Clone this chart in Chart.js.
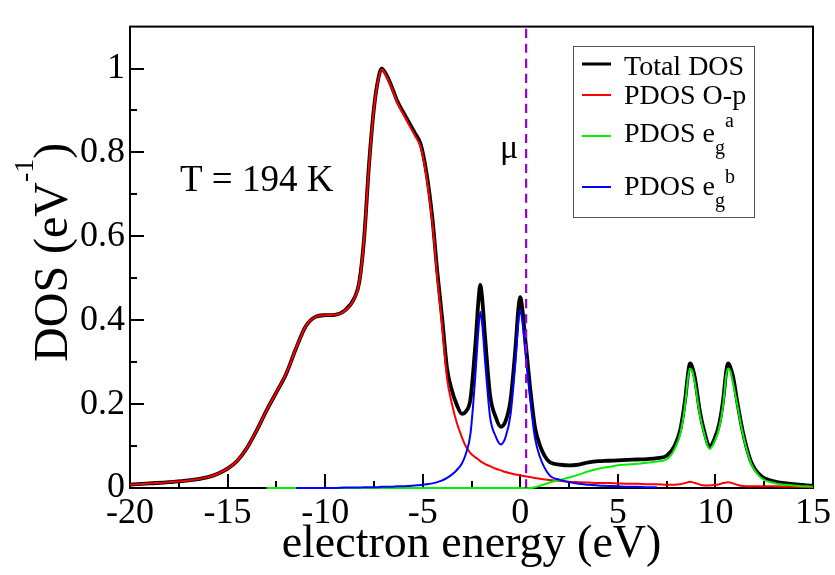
<!DOCTYPE html>
<html>
<head>
<meta charset="utf-8">
<title>DOS</title>
<script src="https://cdn.jsdelivr.net/npm/chart.js@4.4.0/dist/chart.umd.min.js"></script>
<style>
  html, body { margin: 0; padding: 0; background: #fff; }
</style>
</head>
<body>
<canvas id="dosChart" width="835" height="575"></canvas>
<script>
"use strict"
//values -> build {x,y} points -> plot with chart.js

//electron energy grid (eV), shared by every curve
var energy = [
  -20, -19, -18, -17, -16, -15.5, -15, -14.5, -14, -13.5,
  -13, -12.5, -12, -11.5, -11, -10.5, -10, -9.5, -9, -8.5,
  -8.25, -8, -7.75, -7.5, -7.3, -7.1, -6.9, -6.6, -6.3, -6,
  -5.7, -5.4, -5.1, -4.8, -4.5, -4.25, -4, -3.75, -3.5, -3.25,
  -3, -2.8, -2.55, -2.3, -2.15, -2.05, -1.95, -1.8, -1.55, -1.25,
  -1, -0.75, -0.5, -0.25, -0.1, 0, 0.1, 0.25, 0.5, 0.75,
  1, 1.5, 2, 2.5, 3, 3.5, 4, 4.5, 5, 5.5,
  6, 6.5, 7, 7.5, 7.9, 8.2, 8.45, 8.6, 8.7, 8.8,
  8.95, 9.2, 9.45, 9.7, 9.95, 10.2, 10.4, 10.55, 10.65, 10.75,
  10.9, 11.15, 11.4, 11.8, 12.3, 13, 14, 15
];

//total DOS (black)
var totalDos = [
  0.008, 0.011, 0.014, 0.018, 0.026, 0.034, 0.046, 0.065, 0.096, 0.138,
  0.185, 0.228, 0.272, 0.332, 0.385, 0.408, 0.412, 0.413, 0.423, 0.453,
  0.491, 0.597, 0.772, 0.905, 0.97, 1.0, 0.988, 0.958, 0.922, 0.896,
  0.871, 0.846, 0.819, 0.749, 0.641, 0.514, 0.403, 0.284, 0.232, 0.198,
  0.177, 0.182, 0.213, 0.343, 0.443, 0.484, 0.451, 0.357, 0.222, 0.168,
  0.146, 0.16, 0.21, 0.332, 0.426, 0.455, 0.429, 0.358, 0.241, 0.146,
  0.102, 0.062, 0.056, 0.054, 0.056, 0.061, 0.064, 0.065, 0.066, 0.067,
  0.068, 0.069, 0.071, 0.077, 0.1, 0.139, 0.212, 0.274, 0.297, 0.29,
  0.262, 0.183, 0.131, 0.099, 0.117, 0.154, 0.212, 0.277, 0.297, 0.29,
  0.266, 0.197, 0.135, 0.066, 0.03, 0.016, 0.009, 0.005
];

//PDOS O-p (red)
var pdosOp = [
  0.008, 0.011, 0.014, 0.018, 0.026, 0.034, 0.046, 0.065, 0.096, 0.138,
  0.185, 0.228, 0.272, 0.332, 0.385, 0.408, 0.412, 0.413, 0.422, 0.452,
  0.49, 0.595, 0.77, 0.903, 0.968, 0.998, 0.985, 0.955, 0.918, 0.892,
  0.866, 0.84, 0.812, 0.74, 0.63, 0.5, 0.385, 0.26, 0.2, 0.155,
  0.122, 0.1, 0.083, 0.073, 0.068, 0.064, 0.061, 0.057, 0.052, 0.046,
  0.042, 0.038, 0.035, 0.032, 0.031, 0.03, 0.029, 0.028, 0.026, 0.024,
  0.022, 0.019, 0.017, 0.015, 0.014, 0.013, 0.012, 0.012, 0.011, 0.010,
  0.010, 0.009, 0.009, 0.008, 0.008, 0.009, 0.012, 0.014, 0.015, 0.014,
  0.012, 0.008, 0.006, 0.006, 0.007, 0.009, 0.012, 0.013, 0.014, 0.013,
  0.011, 0.007, 0.005, 0.004, 0.004, 0.004, 0.003, 0.002
];

//PDOS eg^a (green), null = not drawn
var pdosEga = [
  null, null, null, null, null, null, null, null, null, null,
  0, 0, 0, 0, 0, 0, 0, 0, 0, 0,
  0, 0, 0, 0, 0, 0, 0, 0, 0, 0,
  0, 0, 0, 0, 0, 0, 0, 0, 0, 0,
  0, 0, 0, 0, 0, 0, 0, 0, 0, 0,
  0, 0, 0, 0, 0, 0, 0, 0, 0, 0.002,
  0.005, 0.013, 0.019, 0.025, 0.032, 0.04, 0.046, 0.05, 0.054, 0.056,
  0.058, 0.06, 0.063, 0.068, 0.092, 0.13, 0.2, 0.265, 0.285, 0.28,
  0.25, 0.175, 0.125, 0.093, 0.11, 0.145, 0.2, 0.268, 0.285, 0.28,
  0.25, 0.19, 0.13, 0.062, 0.026, 0.012, 0.006, 0.003
];

//PDOS eg^b (blue), null = not drawn
var pdosEgb = [
  null, null, null, null, null, null, null, null, null, null,
  null, null, null, 0, 0, 0, 0, 0, 0.001, 0.001,
  0.001, 0.002, 0.002, 0.002, 0.002, 0.003, 0.003, 0.003, 0.004, 0.004,
  0.005, 0.006, 0.007, 0.009, 0.011, 0.014, 0.018, 0.024, 0.032, 0.043,
  0.058, 0.08, 0.13, 0.27, 0.375, 0.42, 0.39, 0.3, 0.17, 0.122,
  0.104, 0.122, 0.175, 0.3, 0.395, 0.425, 0.4, 0.33, 0.215, 0.12,
  0.075, 0.03, 0.02, 0.014, 0.01, 0.008, 0.006, 0.005, 0.004, 0.003,
  0.003, 0.002, 0.002, null, null, null, null, null, null, null,
  null, null, null, null, null, null, null, null, null, null,
  null, null, null, null, null, null, null, null
];

var muEnergy = 0.3;//chemical potential (dashed line)

//axis ticks
var xTicks = [-20, -15, -10, -5, 0, 5, 10, 15];
var xMinorTicks = [-17.5, -12.5, -7.5, -2.5, 2.5, 7.5, 12.5];
var yTicks = [0, 0.2, 0.4, 0.6, 0.8, 1];
var yMinorTicks = [0.1, 0.3, 0.5, 0.7, 0.9];

var serif = "'Liberation Serif', 'DejaVu Serif', serif";

function toPoints(vals) {
  var pts = [];
  for (var i = 0; i < energy.length; i++) {
    if (vals[i] !== null) pts.push({x: energy[i], y: vals[i]});
  }
  return pts;
}

//draws text pieces one after another, sub/superscripts smaller and shifted
function drawRich(ctx, parts, x, y) {
  parts.forEach(function(p) {
    ctx.font = p.size + "px " + serif;
    ctx.fillText(p.t, x, y + (p.dy || 0));
    x += ctx.measureText(p.t).width;
  });
}
function richWidth(ctx, parts) {
  var w = 0;
  parts.forEach(function(p) { ctx.font = p.size + "px " + serif; w += ctx.measureText(p.t).width; });
  return w;
}

var legendRows = [
  {color: "#000000", width: 3, lineY: 64, base: 75, parts: [{t: "Total DOS", size: 28}]},
  {color: "#ff0000", width: 2, lineY: 95, base: 104, parts: [{t: "PDOS O-p", size: 28}]},
  {color: "#00ee00", width: 2, lineY: 136, base: 142, parts: [{t: "PDOS e", size: 28}, {t: "g", size: 20, dy: 12}, {t: "a", size: 20, dy: -15}]},
  {color: "#0000ff", width: 2, lineY: 187, base: 195, parts: [{t: "PDOS e", size: 28}, {t: "g", size: 20, dy: 12}, {t: "b", size: 20, dy: -12}]}
];

var decorPlugin = {
  id: "decor",
  beforeDatasetsDraw: function(chart) {//frame + inward ticks
    var ctx = chart.ctx, a = chart.chartArea;
    var xs = chart.scales.x, ys = chart.scales.y;
    ctx.save();
    ctx.strokeStyle = "#000";
    ctx.lineWidth = 2;
    ctx.strokeRect(a.left, a.top, a.right - a.left, a.bottom - a.top);
    ctx.beginPath();
    xTicks.forEach(function(v) { var p = Math.round(xs.getPixelForValue(v)); ctx.moveTo(p, a.bottom); ctx.lineTo(p, a.bottom - 14); });
    xMinorTicks.forEach(function(v) { var p = Math.round(xs.getPixelForValue(v)); ctx.moveTo(p, a.bottom); ctx.lineTo(p, a.bottom - 7); });
    yTicks.forEach(function(v) { var p = Math.round(ys.getPixelForValue(v)); ctx.moveTo(a.left, p); ctx.lineTo(a.left + 14, p); });
    yMinorTicks.forEach(function(v) { var p = Math.round(ys.getPixelForValue(v)); ctx.moveTo(a.left, p); ctx.lineTo(a.left + 7, p); });
    ctx.stroke();
    ctx.restore();
  },
  afterDraw: function(chart) {
    var ctx = chart.ctx;
    ctx.save();
    ctx.fillStyle = "#000";
    ctx.textBaseline = "alphabetic";
    ctx.textAlign = "left";

    //legend box
    ctx.strokeStyle = "#555";
    ctx.lineWidth = 1;
    ctx.strokeRect(573.5, 46.5, 181, 171);
    legendRows.forEach(function(r) {
      ctx.strokeStyle = r.color;
      ctx.lineWidth = r.width;
      ctx.beginPath();
      ctx.moveTo(582, r.lineY);
      ctx.lineTo(611, r.lineY);
      ctx.stroke();
      drawRich(ctx, r.parts, 624, r.base);
    });

    //annotations
    ctx.font = "37px " + serif;
    ctx.fillText("T = 194 K", 180, 191);
    ctx.font = "34px " + serif;
    ctx.textAlign = "center";
    ctx.fillText("\u03bc", 509, 158);
    ctx.textAlign = "left";

    //y axis title with superscript
    var title = [{t: "DOS (eV", size: 48}, {t: "-1", size: 28, dy: -34}, {t: ")", size: 48}];
    var a = chart.chartArea;
    ctx.translate(67, (a.top + a.bottom) / 2 - 5);
    ctx.rotate(-Math.PI / 2);
    drawRich(ctx, title, -richWidth(ctx, title) / 2, 0);
    ctx.restore();
  }
};

var dosC = document.getElementById("dosChart");
var dosChart = new Chart(dosC, {
  type: "line",
  data: {
    datasets: [
      {label: "mu", data: [{x: muEnergy, y: 0}, {x: muEnergy, y: 1.1}], borderColor: "#9400d3", borderWidth: 2.2, borderDash: [9, 6], order: 0},
      {label: "PDOS eg^b", data: toPoints(pdosEgb), borderColor: "#0000ff", borderWidth: 2, order: 1},
      {label: "PDOS eg^a", data: toPoints(pdosEga), borderColor: "#00ee00", borderWidth: 2, order: 2},
      {label: "PDOS O-p", data: toPoints(pdosOp), borderColor: "#ff0000", borderWidth: 2, order: 3},
      {label: "Total DOS", data: toPoints(totalDos), borderColor: "#000000", borderWidth: 3.8, order: 4}
    ]
  },
  options: {
    responsive: false,
    devicePixelRatio: 1,
    animation: false,
    layout: {padding: {top: 13, right: 22, left: 0, bottom: 0}},
    elements: {
      point: {radius: 0},
      line: {cubicInterpolationMode: "monotone", fill: false}
    },
    datasets: {line: {clip: 6}},
    plugins: {legend: {display: false}, tooltip: {enabled: false}},
    scales: {
      x: {
        type: "linear", position: "bottom", min: -20, max: 15,
        grid: {display: false, drawTicks: false},
        border: {display: false},
        afterBuildTicks: function(s) { s.ticks = xTicks.map(function(v) { return {value: v}; }); },
        afterFit: function(s) { s.height = 87; },
        ticks: {color: "#000", padding: 4, maxRotation: 0, autoSkip: false, font: {family: serif, size: 36},
          callback: function(v) { return String(v); }},
        title: {display: true, text: "electron energy (eV)", color: "#000", font: {family: serif, size: 46}, padding: {top: 0, bottom: 2}}
      },
      y: {
        type: "linear", min: 0, max: 1.1,
        grid: {display: false, drawTicks: false},
        border: {display: false},
        afterBuildTicks: function(s) { s.ticks = yTicks.map(function(v) { return {value: v}; }); },
        afterFit: function(s) { s.width = 130; },
        ticks: {color: "#000", padding: 5, font: {family: serif, size: 36},
          callback: function(v) { return String(v); }}
      }
    }
  },
  plugins: [decorPlugin]
});
</script>
</body>
</html>
